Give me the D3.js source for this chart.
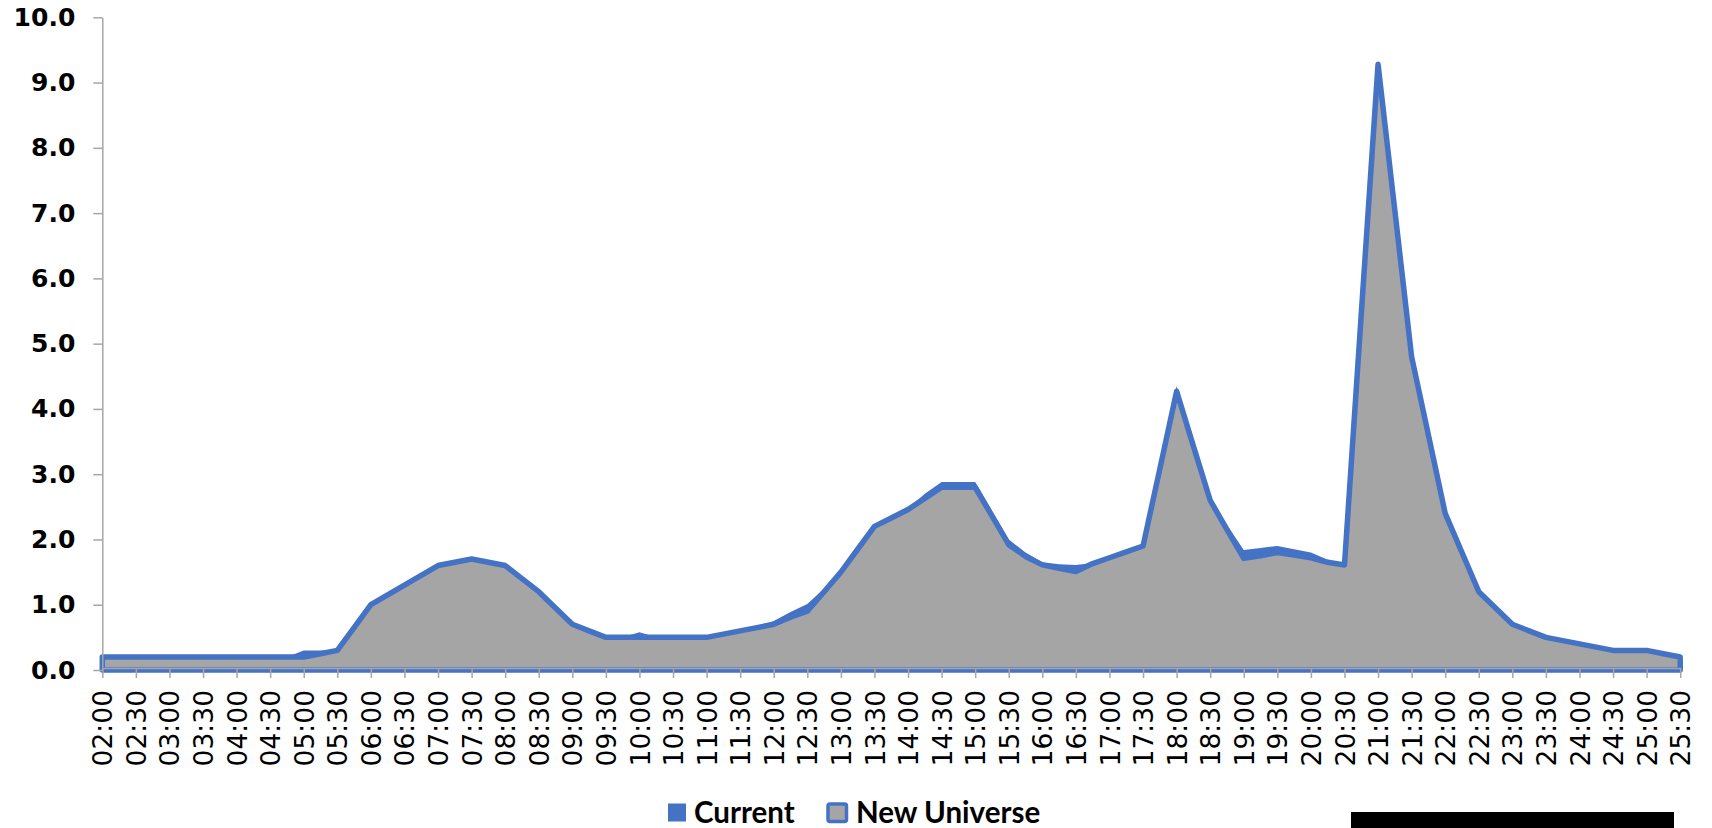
<!DOCTYPE html>
<html>
<head>
<meta charset="utf-8">
<script src="https://cdn.jsdelivr.net/npm/d3@7"></script>
<style>
  html, body { margin: 0; padding: 0; background: #ffffff; }
  svg { display: block; }
</style>
</head>
<body>
<svg id="chart" width="1712" height="828"></svg>
<script>
// Quarter-hour slots of the broadcast day (02:00 through 25:30)
const times = [
  "02:00","02:15","02:30","02:45","03:00","03:15","03:30","03:45",
  "04:00","04:15","04:30","04:45","05:00","05:15","05:30","05:45",
  "06:00","06:15","06:30","06:45","07:00","07:15","07:30","07:45",
  "08:00","08:15","08:30","08:45","09:00","09:15","09:30","09:45",
  "10:00","10:15","10:30","10:45","11:00","11:15","11:30","11:45",
  "12:00","12:15","12:30","12:45","13:00","13:15","13:30","13:45",
  "14:00","14:15","14:30","14:45","15:00","15:15","15:30","15:45",
  "16:00","16:15","16:30","16:45","17:00","17:15","17:30","17:45",
  "18:00","18:15","18:30","18:45","19:00","19:15","19:30","19:45",
  "20:00","20:15","20:30","20:45","21:00","21:15","21:30","21:45",
  "22:00","22:15","22:30","22:45","23:00","23:15","23:30","23:45",
  "24:00","24:15","24:30","24:45","25:00","25:15","25:30"
];

// Half-hour labels shown on the time axis
const tickLabels = [
  "02:00","02:30","03:00","03:30","04:00","04:30","05:00","05:30",
  "06:00","06:30","07:00","07:30","08:00","08:30","09:00","09:30",
  "10:00","10:30","11:00","11:30","12:00","12:30","13:00","13:30",
  "14:00","14:30","15:00","15:30","16:00","16:30","17:00","17:30",
  "18:00","18:30","19:00","19:30","20:00","20:30","21:00","21:30",
  "22:00","22:30","23:00","23:30","24:00","24:30","25:00","25:30"
];

const yTicks = [0, 1, 2, 3, 4, 5, 6, 7, 8, 9, 10];

// Current rating per quarter hour
const current = [
  0.2, 0.2, 0.2, 0.2, 0.2, 0.2, 0.2, 0.2,
  0.2, 0.2, 0.2, 0.2, 0.3, 0.3, 0.3, 0.65,
  1.0, 1.15, 1.3, 1.45, 1.6, 1.65, 1.7, 1.66,
  1.6, 1.4, 1.2, 0.95, 0.7, 0.6, 0.5, 0.5,
  0.58, 0.5, 0.5, 0.5, 0.5, 0.55, 0.6, 0.66,
  0.75, 0.89, 1.01, 1.25, 1.5, 1.85, 2.2, 2.33,
  2.47, 2.7, 2.88, 2.88, 2.88, 2.44, 2.0, 1.8,
  1.65, 1.62, 1.61, 1.64, 1.73, 1.81, 1.9, 3.12,
  4.35, 3.45, 2.6, 2.22, 1.84, 1.87, 1.9, 1.85,
  1.8, 1.69, 1.62, 5.45, 9.3, 7.05, 4.8, 3.6,
  2.4, 1.8, 1.2, 0.95, 0.7, 0.6, 0.5, 0.45,
  0.4, 0.35, 0.3, 0.3, 0.3, 0.25, 0.2
];

// New Universe rating per quarter hour
const newUniverse = [
  0.2, 0.2, 0.2, 0.2, 0.2, 0.2, 0.2, 0.2,
  0.2, 0.2, 0.2, 0.2, 0.2, 0.25, 0.3, 0.65,
  1.0, 1.15, 1.3, 1.45, 1.6, 1.65, 1.7, 1.65,
  1.6, 1.4, 1.2, 0.95, 0.7, 0.6, 0.5, 0.5,
  0.5, 0.5, 0.5, 0.5, 0.5, 0.55, 0.6, 0.65,
  0.7, 0.81, 0.9, 1.2, 1.5, 1.85, 2.2, 2.33,
  2.46, 2.63, 2.8, 2.8, 2.8, 2.36, 1.92, 1.74,
  1.61, 1.56, 1.51, 1.63, 1.72, 1.81, 1.9, 3.08,
  4.27, 3.43, 2.6, 2.15, 1.71, 1.75, 1.8, 1.76,
  1.72, 1.65, 1.61, 5.45, 9.28, 7.04, 4.8, 3.6,
  2.4, 1.8, 1.2, 0.95, 0.7, 0.6, 0.5, 0.45,
  0.4, 0.35, 0.3, 0.3, 0.3, 0.25, 0.2
];

const seriesNames = ["Current", "New Universe"];

const BLUE = "#4472C4";
const GRAY = "#A5A5A5";
const AXIS = "#A6A6A6";

const svg = d3.select("#chart");

const x = d3.scalePoint().domain(times).range([102.3, 1680.2]);
const y = d3.scaleLinear().domain([0, 10]).range([670, 17.3]);

const rows = times.map((t, i) => ({ t, cur: current[i], nu: newUniverse[i] }));

const areaOf = key => d3.area()
  .x(d => x(d.t))
  .y0(y(0))
  .y1(d => y(d[key]));

// Current: solid blue area, drawn first
svg.append("path")
  .datum(rows)
  .attr("d", areaOf("cur"))
  .attr("fill", BLUE);

// New Universe: gray area with blue border, on top
svg.append("path")
  .datum(rows)
  .attr("d", areaOf("nu"))
  .attr("fill", GRAY)
  .attr("stroke", BLUE)
  .attr("stroke-width", 5.5)
  .attr("stroke-linejoin", "round");

// Value axis
const yAxis = svg.append("g")
  .attr("transform", "translate(102.3,0)")
  .call(d3.axisLeft(y)
    .tickValues(yTicks)
    .tickFormat(d3.format(".1f"))
    .tickSize(9)
    .tickSizeOuter(0)
    .tickPadding(18));
yAxis.select(".domain").attr("stroke", AXIS).attr("stroke-width", 1.5);
yAxis.selectAll(".tick line").attr("stroke", AXIS).attr("stroke-width", 1.5);
yAxis.selectAll(".tick text")
  .attr("fill", "#000")
  .style("font-family", "'DejaVu Sans', Verdana, sans-serif")
  .style("font-weight", "bold")
  .style("font-size", "25px");

// Time axis
const xAxis = svg.append("g")
  .attr("transform", "translate(0,668)")
  .call(d3.axisBottom(x)
    .tickValues(tickLabels)
    .tickSize(10)
    .tickSizeOuter(0));
xAxis.select(".domain").attr("stroke", AXIS).attr("stroke-width", 1.5);
xAxis.selectAll(".tick line").attr("stroke", AXIS).attr("stroke-width", 1.5);
xAxis.selectAll(".tick text")
  .attr("transform", "rotate(-90)")
  .attr("x", -22)
  .attr("y", 0)
  .attr("dy", "0.36em")
  .attr("text-anchor", "end")
  .attr("fill", "#000")
  .style("font-family", "'DejaVu Sans', Verdana, sans-serif")
  .style("font-size", "26.5px");

// Legend
const legend = svg.append("g");
const legendFont = "Lato, 'Open Sans', sans-serif";

legend.append("rect")
  .attr("x", 668).attr("y", 803.5).attr("width", 18).attr("height", 18)
  .attr("fill", BLUE);
legend.append("text")
  .attr("x", 694).attr("y", 822.5)
  .style("font-family", legendFont).style("font-weight", "bold").style("font-size", "29.5px")
  .attr("fill", "#000")
  .text(seriesNames[0]);

legend.append("rect")
  .attr("x", 828).attr("y", 804).attr("width", 18.5).attr("height", 17.5)
  .attr("rx", 2)
  .attr("fill", GRAY).attr("stroke", BLUE).attr("stroke-width", 3.5);
legend.append("text")
  .attr("x", 856).attr("y", 822.5)
  .style("font-family", legendFont).style("font-weight", "bold").style("font-size", "29.5px")
  .attr("fill", "#000")
  .text(seriesNames[1]);

// Source caption box at the bottom right
svg.append("rect")
  .attr("x", 1351).attr("y", 812).attr("width", 323).attr("height", 16)
  .attr("fill", "#000");
</script>
</body>
</html>
